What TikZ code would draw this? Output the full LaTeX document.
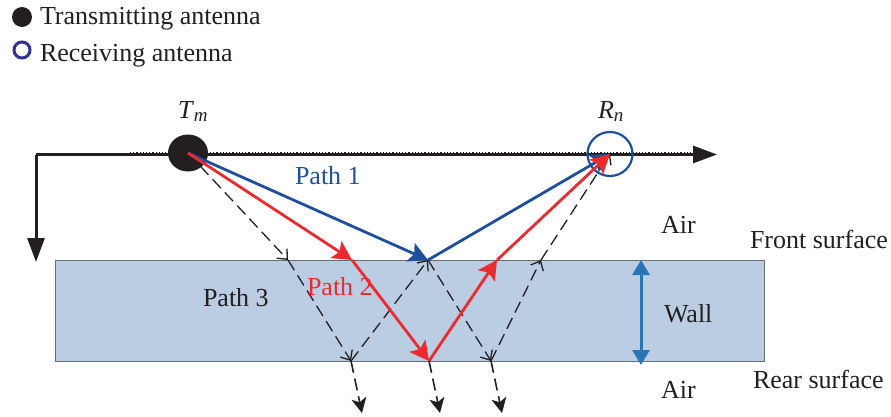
\documentclass[tikz,border=0pt]{standalone}
\usepackage{fontspec}
\setmainfont{Liberation Serif}
\usetikzlibrary{arrows.meta,shapes.geometric}
\definecolor{ink}{HTML}{231F20}
\definecolor{pathblue}{HTML}{1F4E9E}
\definecolor{pathred}{HTML}{EE2A2E}
\definecolor{wallfill}{HTML}{BBCDE2}
\definecolor{wallline}{HTML}{6D6E71}
\definecolor{gapblue}{HTML}{2A75B5}
\definecolor{ringblue}{HTML}{2E3192}
\tikzset{
  lbl/.style={anchor=base west,inner sep=0pt,outer sep=0pt,font=\fontsize{26}{26}\selectfont,text=ink},
  axisline/.style={ink,line width=3pt,-{Triangle[length=24pt,width=17pt]}},
  blueray/.style={pathblue,line width=2.8pt,-{Stealth[length=19pt,width=20pt,inset=4pt]}},
  redray/.style={pathred,line width=2.8pt,-{Stealth[length=19pt,width=20pt,inset=4pt]}},
  dashray/.style={ink,line width=1.3pt,dash pattern=on 12pt off 6pt,-{Straight Barb[length=8pt,width=14pt]}},
  exitray/.style={ink,line width=1.6pt,dash pattern=on 12pt off 6pt,-{Stealth[length=15pt,width=15pt,inset=4pt]}},
}
\newcommand{\antlabel}[2]{\textit{#1}\raisebox{-4pt}{\fontsize{19}{19}\selectfont\textit{#2}}}
\begin{document}
\begin{tikzpicture}[x=1pt,y=-1pt]
\useasboundingbox (0,0) rectangle (891,417);
% wall
\node[draw=wallline,fill=wallfill,line width=1.3pt,minimum width=709pt,minimum height=101pt,inner sep=0pt,anchor=north west] (wall) at (55,260) {};
% named points
\coordinate (tx) at (188,153);
\coordinate (rx) at (610,154);
\coordinate (axisO) at (36,154.5);
\coordinate (axisX) at (717,154.5);
\coordinate (axisY) at (36,262);
\coordinate (f1) at (288,260);
\coordinate (r1) at (351,361);
\coordinate (fm) at (428,260);
\coordinate (rm) at (429,361);
\coordinate (r3) at (491,361);
\coordinate (f3) at (541,260);
\coordinate (fr) at (352,260);
\coordinate (fl) at (497,260);
\coordinate (e1) at (362,413);
\coordinate (e2) at (440,413);
\coordinate (e3) at (502,413);
\coordinate (dotA) at (130,153);
\coordinate (dotB) at (695,153);
\coordinate (gapT) at (641,260);
\coordinate (gapB) at (641,365);
% axes
\draw[ink,line width=1.2pt,dotted] (dotA) -- (dotB);
\draw[axisline] (axisO) -- (axisX);
\draw[axisline] (axisO) -- (axisY);
% antennas
\node[ellipse,fill=ink,minimum width=40pt,minimum height=37pt,inner sep=0pt] (tm) at (tx) {};
\node[ellipse,draw=pathblue,line width=2.2pt,minimum width=45pt,minimum height=44pt,inner sep=0pt] (rn) at (rx) {};
% dashed path 3
\draw[dashray] (tx) -- (f1);
\draw[dashray] (f1) -- (r1);
\draw[dashray] (r1) -- (fm);
\draw[dashray] (fm) -- (r3);
\draw[dashray] (r3) -- (f3);
\draw[dashray] (f3) -- (rx);
% exits
\draw[exitray] (r1) -- (e1);
\draw[exitray] (rm) -- (e2);
\draw[exitray] (r3) -- (e3);
% path 1
\draw[blueray] (tx) -- (fm);
\draw[blueray] (fm) -- (rx);
% path 2
\draw[redray] (tx) -- (fr);
\draw[redray] (fr) -- (rm);
\draw[redray] (rm) -- (fl);
\draw[redray] (fl) -- (rx);
% wall thickness
\draw[gapblue,line width=3pt,{Triangle[length=15pt,width=17pt]}-{Triangle[length=15pt,width=17pt]}] (gapT) -- (gapB);
% legend
\node[circle,fill=ink,minimum size=20pt,inner sep=0pt] (legT) at (22,17) {};
\node[circle,draw=ringblue,line width=3pt,minimum size=16pt,inner sep=0pt] (legR) at (22,50) {};
\node[lbl] (t1) at (40,25) {Transmitting antenna};
\node[lbl] (t2) at (40,62) {Receiving antenna};
% labels
\node[lbl] (tmL) at (178,118) {\antlabel{T}{m}};
\node[lbl] (rnL) at (598,118) {\antlabel{R}{n}};
\node[lbl,text=pathblue] (p1) at (295,184) {Path 1};
\node[lbl,text=pathred] (p2) at (307,295) {Path 2};
\node[lbl] (p3) at (203,306) {Path 3};
\node[lbl] (air1) at (661,233) {Air};
\node[lbl] (air2) at (661,398) {Air};
\node[lbl] (wallL) at (664,322) {Wall};
\node[lbl] (front) at (750,248) {Front surface};
\node[lbl] (rear) at (753,388) {Rear surface};
\end{tikzpicture}
\end{document}
